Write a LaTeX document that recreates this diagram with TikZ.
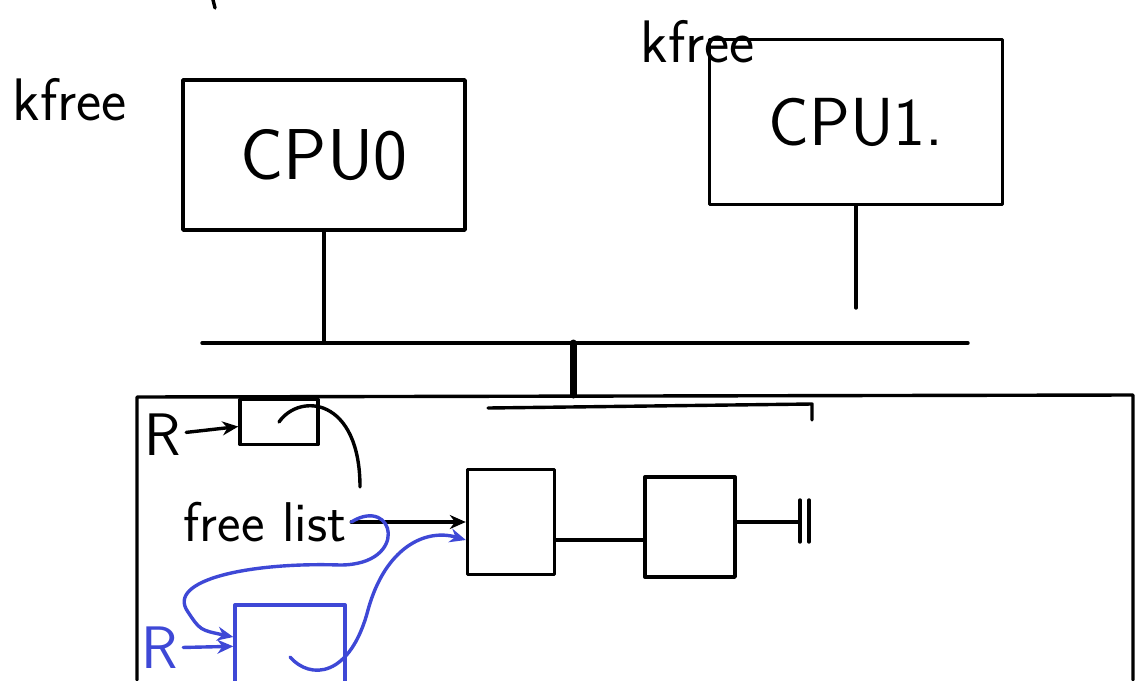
\documentclass[tikz,border=0pt]{standalone}
\usepackage{fontspec}
\usetikzlibrary{arrows.meta}
\definecolor{penblue}{RGB}{62,72,214}

\begin{document}
\begin{tikzpicture}[x=1pt, y=-1pt, line width=3.4pt, line cap=round, line join=round,
		box/.style={draw, rectangle, inner sep=0pt},
		hand/.style={font=\sffamily\fontsize{56}{56}\selectfont},
		ptr/.style={-{Stealth[length=16pt, width=14pt]}}]
		\useasboundingbox (0,0) rectangle (1139,680);

		% cpus
		\node[box, hand, font=\sffamily\fontsize{72}{72}\selectfont, minimum width=282pt, minimum height=150pt] (cpu0) at (324,155) {CPU0};
		\node[box, hand, font=\sffamily\fontsize{68}{68}\selectfont, minimum width=293pt, minimum height=165pt] (cpu1) at (856,122) {CPU1.};
		\node[hand, font=\sffamily\fontsize{60}{60}\selectfont] (kfree0) at (70,100) {kfree};
		\node[hand, font=\sffamily\fontsize{60}{60}\selectfont] (kfree1) at (698,42) {kfree};
		\draw (213,0) -- (215,8);

		% bus
		\coordinate (busL) at (202,343);
		\coordinate (busR) at (968,343);
		\coordinate (cpu1stub) at (856,308);
		\coordinate (tap) at (573,395);
		\draw (busL) -- (busR);
		\draw (cpu0.south) -- (cpu0.south |- busL);
		\draw (cpu1.south) -- (cpu1stub);
		\draw[line width=7pt] (tap |- busL) -- (tap);

		% memory
		\draw (137,680) -- (137,397) -- (1133,395) -- (1133,680);
		\draw (488,408) -- (812,404) -- (812,420);

		% slot held by R
		\node[hand, font=\sffamily\fontsize{60}{60}\selectfont] (r0) at (163,435) {R};
		\node[box, minimum width=78pt, minimum height=45pt] (rslot) at (279,422) {};
		\draw[ptr] (r0) -- (rslot);
		\draw (rslot.center) .. controls (300,392) and (360,398) .. (360,487);

		% free list
		\node[hand] (fl) at (265,522) {free list};
		\node[box, minimum width=87pt, minimum height=105pt] (n1) at (511,522) {};
		\node[box, minimum width=90pt, minimum height=100pt] (n2) at (690,527) {};
		\coordinate (nil) at (800,522);
		\draw[ptr] (fl) -- (n1);
		\draw ([yshift=-18pt]n1.east) -- ([yshift=-18pt]n1.east -| n2.west);
		\draw (n2.east |- nil) -- (nil);
		\draw ([yshift=22pt]nil) -- ([yshift=-20pt]nil);
		\draw ([xshift=9pt, yshift=22pt]nil) -- ([xshift=9pt, yshift=-20pt]nil);

		% freed slot pushed on the list
		\node[hand, font=\sffamily\fontsize{60}{60}\selectfont, text=penblue] (r1) at (160,648) {R};
		\node[box, draw=penblue, minimum width=110pt, minimum height=80pt] (newslot) at (290,645) {};
		\draw[ptr, penblue] (r1) -- (newslot);
		\draw[ptr, penblue] (fl.east) .. controls (395,495) and (410,565) .. (340,565)
			.. controls (250,562) and (165,580) .. (188,612)
			.. controls (200,630) .. ([yshift=8pt]newslot.west);
		\draw[ptr, penblue] ([yshift=-12pt]newslot.center) .. controls (310,680) and (350,678) .. (368,610)
			.. controls (385,548) and (425,528) .. ([yshift=-18pt]n1.west);
		\end{tikzpicture}
\end{document}
